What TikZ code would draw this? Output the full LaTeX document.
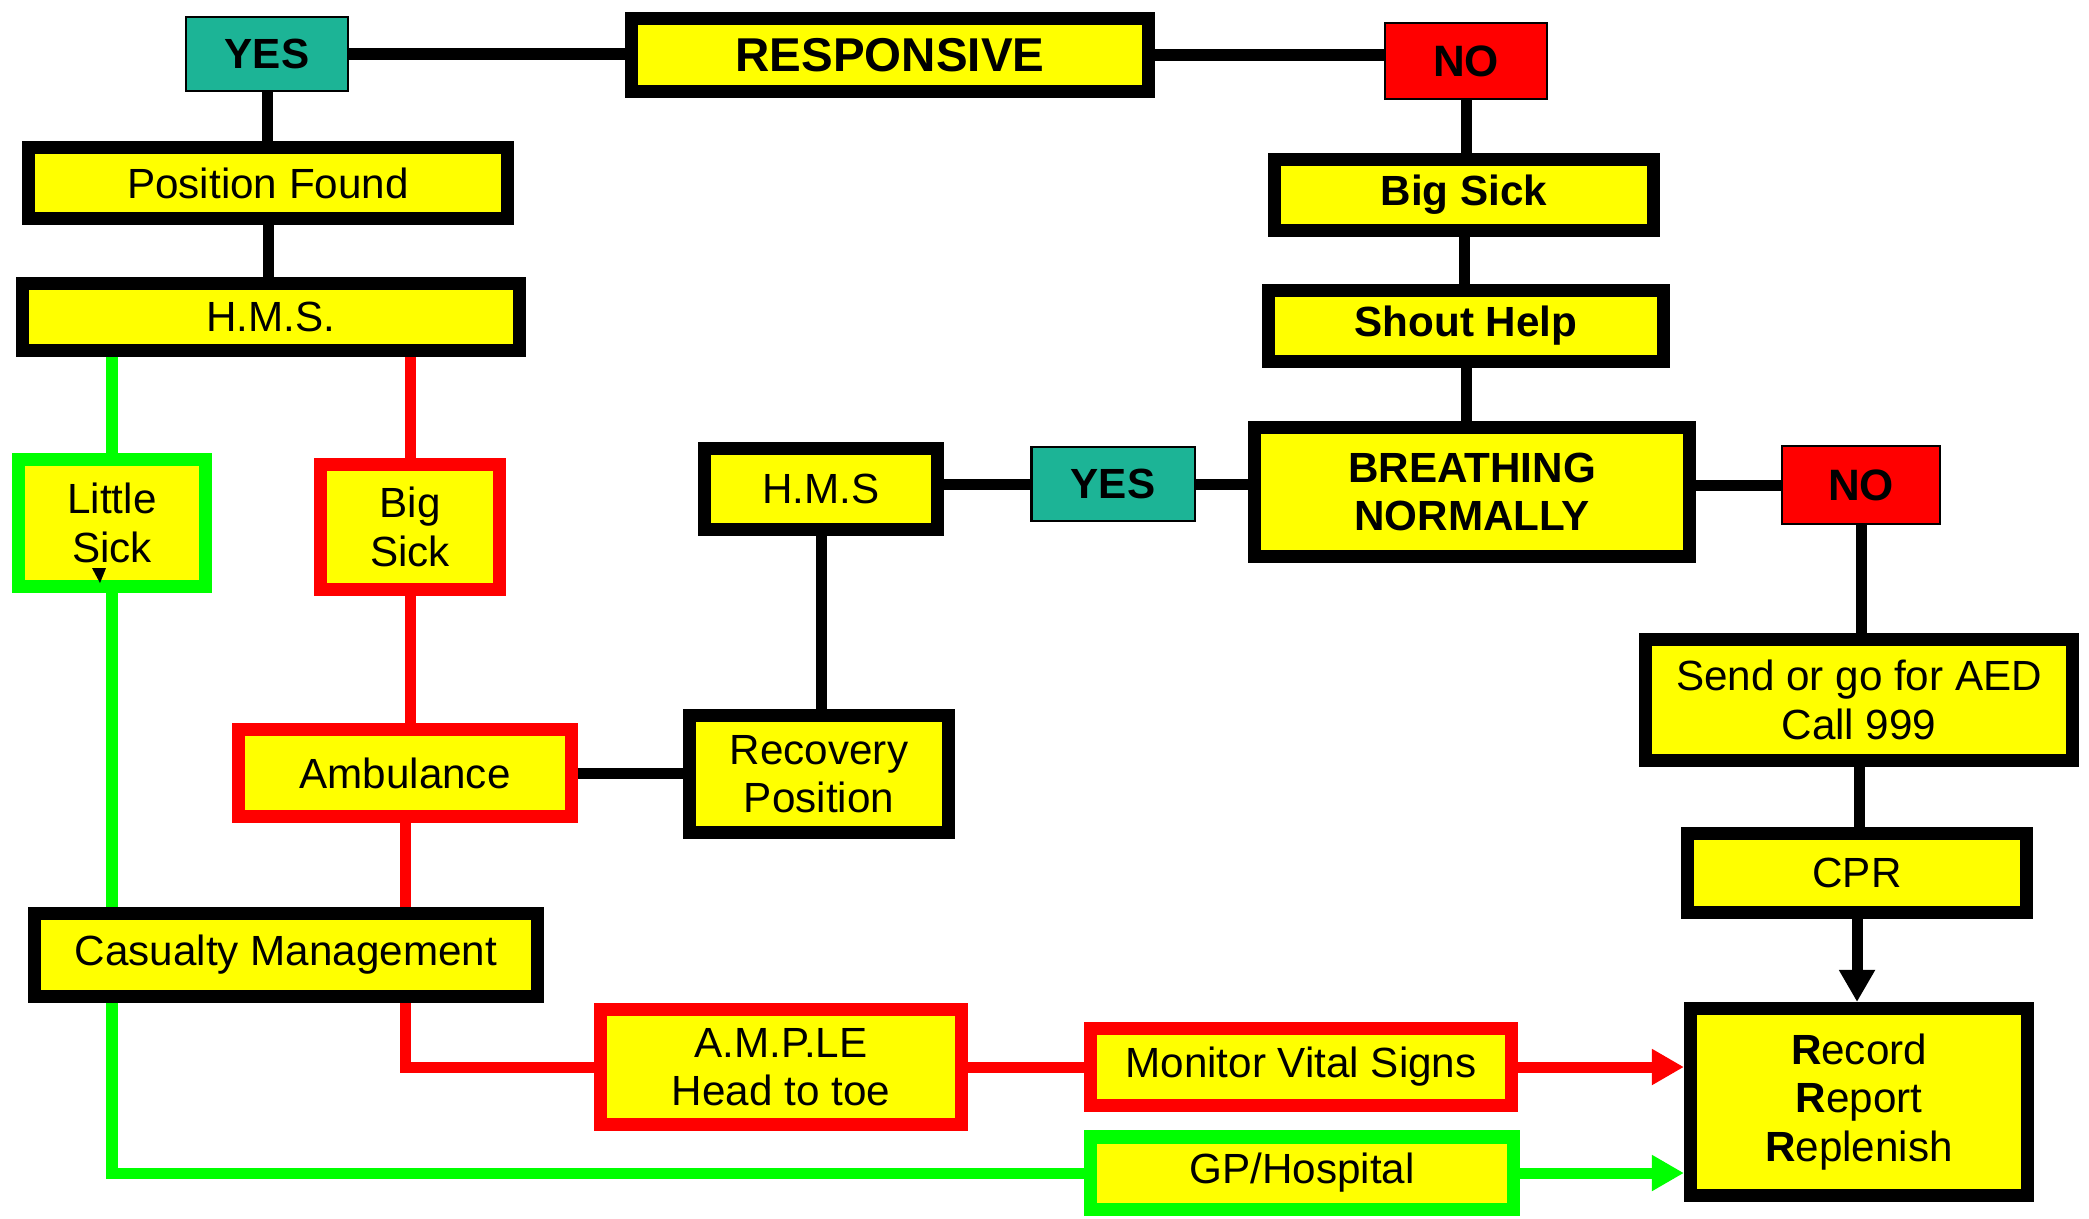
\documentclass[tikz,border=0pt]{standalone}
\usepackage{fontspec}
\setmainfont{Liberation Sans}
\usetikzlibrary{calc}
\usetikzlibrary{arrows.meta}
\usetikzlibrary{backgrounds}

\definecolor{boxyellow}{RGB}{255,255,0}
\definecolor{linered}{RGB}{255,0,0}
\definecolor{linegreen}{RGB}{0,255,0}
\definecolor{yesteal}{RGB}{28,180,150}

\tikzset{
  box/.style={draw=black, fill=boxyellow, line width=0.13cm, inner sep=0pt,
    align=center, font=\fontsize{12}{13.8}\selectfont},
  redbox/.style={box, draw=linered},
  greenbox/.style={box, draw=linegreen},
  bold/.style={font=\fontsize{12}{13.8}\selectfont\bfseries},
  yesbox/.style={draw=black, fill=yesteal, line width=0.6pt, inner sep=0pt,
    font=\fontsize{12}{14}\selectfont\bfseries},
  nobox/.style={yesbox, fill=linered, font=\fontsize{12.5}{14}\selectfont\bfseries},
  wh/.style 2 args={minimum width=#1cm, minimum height=#2cm},
  link/.style={line width=0.11cm, draw=black},
  redlink/.style={link, draw=linered},
  greenlink/.style={link, draw=linegreen},
  tip/.style={-{Triangle[width=0.34cm,length=0.32cm]}}
}

\begin{document}
\begin{tikzpicture}[x=0.01cm,y=-0.01cm]
\useasboundingbox (0,0) rectangle (2089,1218);

% top row
\node[yesbox, wh={1.62}{0.74}] (yesA) at (267,54) {YES};
\node[box, wh={5.16}{0.73}, font=\fontsize{13.5}{15}\selectfont\bfseries] (resp) at (890,55) {RESPONSIVE};
\node[nobox, wh={1.62}{0.76}] (noA) at (1466,61) {NO};

% left column
\node[box, wh={4.79}{0.70}] (posf) at (268,183) {Position Found};
\node[box, wh={4.97}{0.67}] (hmsA) at (271,317) {H.M.S.};
\node[greenbox, wh={1.87}{1.26}] (little) at (112,523) {Little\\Sick};
\node[redbox, wh={1.79}{1.25}] (bigL) at (410,527) {Big\\Sick};
\node[redbox, wh={3.33}{0.87}] (amb) at (405,773) {Ambulance};
\node[box, wh={5.03}{0.82}] (cas) at (286,955) {Casualty Management};
\node[redbox, wh={3.60}{1.14}] (ample) at (781,1067) {A.M.P.LE\\Head to toe};
\node[redbox, wh={4.20}{0.77}] (monitor) at (1301,1067) {Monitor Vital Signs};
\node[greenbox, wh={4.23}{0.72}] (gp) at (1302,1173) {GP/Hospital};

% middle
\node[box, wh={2.32}{0.81}] (hmsB) at (821,489) {H.M.S};
\node[box, wh={2.59}{1.17}] (recov) at (819,774) {Recovery\\Position};
\node[yesbox, wh={1.63}{0.74}] (yesB) at (1113,484) {YES};

% right column
\node[box, bold, wh={3.79}{0.70}] (bigR) at (1464,195) {Big Sick};
\node[box, bold, wh={3.94}{0.71}] (shout) at (1466,326) {Shout Help};
\node[box, bold, wh={4.35}{1.28}] (breath) at (1472,492) {BREATHING\\NORMALLY};
\node[nobox, wh={1.58}{0.78}] (noB) at (1861,485) {NO};
\node[box, wh={4.26}{1.21}] (aed) at (1859,700) {Send or go for AED\\Call 999};
\node[box, wh={3.39}{0.79}] (cpr) at (1857,873) {CPR};
\node[box, wh={3.37}{1.87}] (record) at (1859,1102)
  {{\bfseries R}ecord\\{\bfseries R}eport\\{\bfseries R}eplenish};

\begin{scope}[on background layer]
% black links
\draw[link] (yesA.east) -- (yesA.east -| resp.west);
\draw[link] (resp.east) -- (resp.east -| noA.west);
\draw[link] (yesA.south) -- (yesA.south |- posf.north);
\draw[link] (posf.south) -- (posf.south |- hmsA.north);
\draw[link] (noA.south) -- (noA.south |- bigR.north);
\draw[link] (bigR.south) -- (bigR.south |- shout.north);
\draw[link] (shout.south) -- (shout.south |- breath.north);
\draw[link] (hmsB.east |- yesB) -- (yesB.west);
\draw[link] (yesB.east) -- (yesB.east -| breath.west);
\draw[link] (breath.east |- noB) -- (noB.west);
\draw[link] (hmsB.south) -- (hmsB.south |- recov.north);
\draw[link] (amb.east) -- (amb.east -| recov.west);
\draw[link] (noB.south) -- (noB.south |- aed.north);
\draw[link] (aed.south) -- (aed.south |- cpr.north);
\draw[link,tip] (cpr.south) -- (cpr.south |- record.north);

% red path
\draw[redlink] (hmsA.south -| bigL) -- (bigL.north);
\draw[redlink] (bigL.south) -- (bigL.south |- amb.north);
\draw[redlink] (amb.south) -- (amb.south |- cas.north);
\draw[redlink] (amb.south |- cas.south) -- (amb.south |- ample) -- (ample.west);
\draw[redlink] (ample.east) -- (ample.east -| monitor.west);
\draw[redlink,tip] (monitor.east) -- (monitor.east -| record.west);

% green path
\draw[greenlink] (hmsA.south -| little) -- (little.north);
\draw[greenlink] (little.south) -- (little.south |- gp) -- (gp.west);
\draw[greenlink,tip] (gp.east) -- (gp.east -| record.west);
\end{scope}

\fill[black] (92,568) -- (106,568) -- (100,583) -- cycle;

\end{tikzpicture}
\end{document}
